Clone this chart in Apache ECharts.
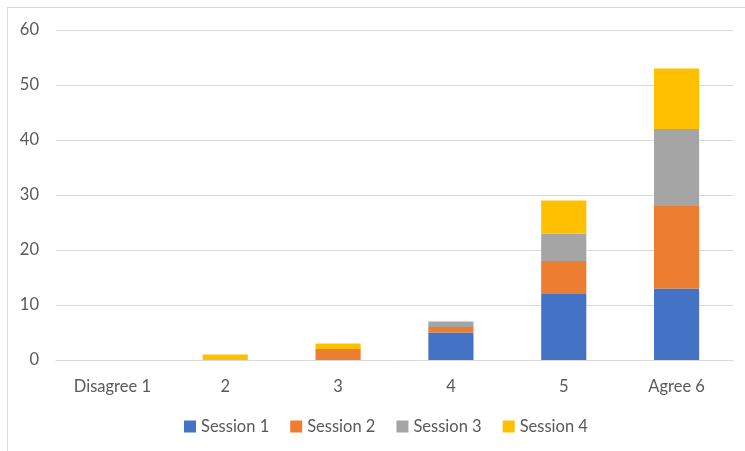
<!DOCTYPE html>
<html>
<head>
<meta charset="utf-8">
<script src="https://cdn.jsdelivr.net/npm/echarts@6/dist/echarts.min.js"></script>
<style>
html,body{margin:0;padding:0;background:#fff;overflow:hidden;}
#frame{position:absolute;left:7px;top:7px;width:760px;height:460px;border:1px solid #d9d9d9;box-sizing:border-box;}
#main{position:absolute;left:0;top:0;width:745px;height:451px;}
</style>
</head>
<body>
<div id="frame"></div>
<div id="main"></div>
<script>
const categories = ['Disagree 1', '2', '3', '4', '5', 'Agree 6'];
const seriesNames = ['Session 1', 'Session 2', 'Session 3', 'Session 4'];
const session1 = [0, 0, 0, 5, 12, 13];
const session2 = [0, 0, 2, 1, 6, 15];
const session3 = [0, 0, 0, 1, 5, 14];
const session4 = [0, 1, 1, 0, 6, 11];
const yTicks = [0, 10, 20, 30, 40, 50, 60];
const colors = ['#4472C4', '#ED7D31', '#A5A5A5', '#FFC000'];

const values = [session1, session2, session3, session4];
const chart = echarts.init(document.getElementById('main'));
const font = 'Lato, "Open Sans", sans-serif';
chart.setOption({
  animation: false,
  color: colors,
  grid: { left: 56, right: 12, top: 30, bottom: 91, containLabel: false },
  legend: {
    bottom: 16,
    left: 184,
    padding: 0,
    itemWidth: 12,
    itemHeight: 12,
    itemGap: 21,
    icon: 'rect',
    textStyle: { color: '#595959', fontSize: 16.5, fontFamily: font },
    data: seriesNames
  },
  xAxis: {
    type: 'category',
    data: categories,
    axisLine: { lineStyle: { color: '#d9d9d9', width: 1 } },
    axisTick: { show: false },
    axisLabel: { color: '#595959', fontSize: 16.5, fontFamily: font, margin: 18 }
  },
  yAxis: {
    type: 'value',
    min: yTicks[0],
    max: yTicks[yTicks.length - 1],
    interval: 10,
    axisLine: { show: false },
    axisTick: { show: false },
    splitLine: { lineStyle: { color: '#d9d9d9', width: 1 } },
    axisLabel: { color: '#595959', fontSize: 16.5, fontFamily: font, margin: 17 }
  },
  series: seriesNames.map((name, i) => ({
    name: name,
    type: 'bar',
    stack: 'total',
    barWidth: '40%',
    data: values[i]
  }))
});
</script>
</body>
</html>
